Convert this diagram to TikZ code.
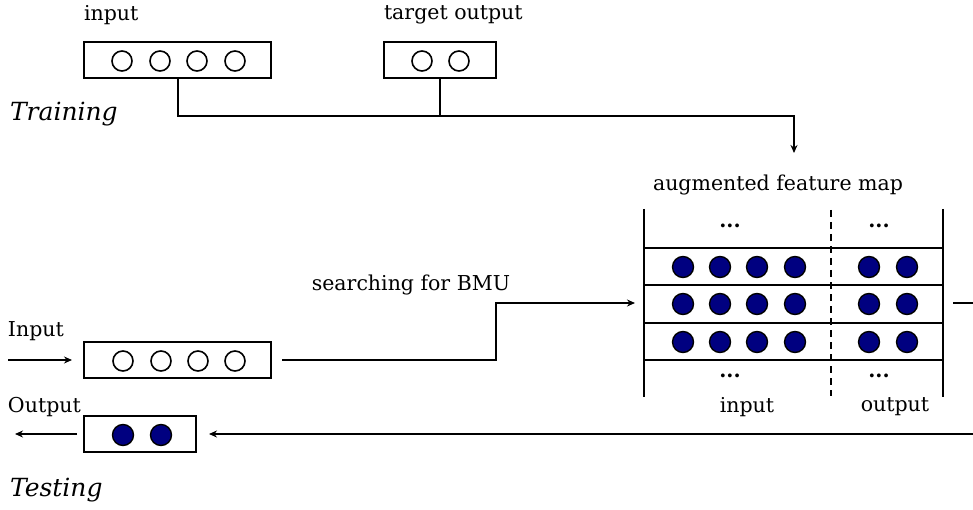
\documentclass[tikz,border=0pt]{standalone}
\usepackage{fontspec}
\setmainfont{DejaVu Serif}
\usetikzlibrary{arrows.meta}
\definecolor{dotblue}{RGB}{0,0,128}
\begin{document}
\begin{tikzpicture}[x=1pt,y=-1pt,
  every path/.style={line width=2pt},
  vecbox/.style={draw,line width=2pt,rectangle,inner sep=0pt,minimum height=36pt},
  hollow/.style={draw,circle,line width=1.6pt,inner sep=0pt,minimum width=18pt,minimum height=20pt},
  solid dot/.style={draw,circle,fill=dotblue,line width=1.4pt,inner sep=0pt,minimum size=21pt},
  lbl/.style={inner sep=0pt,font=\fontsize{20.5}{24}\selectfont},
  ital/.style={inner sep=0pt,font=\fontsize{25}{30}\selectfont\itshape},
  arr/.style={-{Stealth[length=8pt,width=7pt]}},
  mapline/.style={line width=2pt}
]
\useasboundingbox (0,0) rectangle (973,510);

% ---------- Training ----------
\node[lbl,anchor=west] (lin) at (83,15) {input};
\node[lbl,anchor=west] (lto) at (383,15) {target output};
\node[vecbox,minimum width=187pt] (inA) at (177.5,60.5) {};
\node[hollow] (a1) at (122,61) {};
\node[hollow] (a2) at (160,61) {};
\node[hollow] (a3) at (197,61) {};
\node[hollow] (a4) at (235,61) {};
\node[vecbox,minimum width=112pt] (tgtA) at (439.5,60.5) {};
\node[hollow] (t1) at (422,61) {};
\node[hollow] (t2) at (459,61) {};
\node[ital,anchor=west] (training) at (9,114) {Training};

\coordinate (corner) at (794,116);
\coordinate (tgtEnd) at (794,153);
\draw[arr] (inA.south) |- (corner) -- (tgtEnd);
\draw (tgtA.south) -- (tgtA.south |- corner);

% ---------- augmented feature map ----------
\node[lbl] (afm) at (778,185) {augmented feature map};
\draw[mapline] (644,209) -- (644,397);
\draw[mapline] (943,209) -- (943,397);
\draw[mapline,dash pattern=on 7pt off 5pt] (831,210) -- (831,396);
\foreach \yy in {248,285,323,360} \draw[mapline] (644,\yy) -- (943,\yy);
\node[lbl,anchor=base] (d1) at (730,228) {\textbf{...}};
\node[lbl,anchor=base] (d2) at (879,228) {\textbf{...}};
\node[lbl,anchor=base] (d3) at (730,377) {\textbf{...}};
\node[lbl,anchor=base] (d4) at (879,377) {\textbf{...}};
\foreach \r/\yy in {1/267,2/304,3/342}{
  \foreach \c/\xx in {1/683,2/720,3/757,4/795,5/869,6/907}{
    \node[solid dot] (m\r\c) at (\xx,\yy) {};
  }
}
\node[lbl] (lmi) at (747,407) {input};
\node[lbl] (lmo) at (895,407) {output};
\coordinate (mapW) at (644,303);
\coordinate (mapE) at (943,303);
\coordinate (rEdge) at (973,303);
\draw[shorten <=10pt] (mapE) -- (rEdge);

% ---------- Testing ----------
\node[lbl,anchor=west] (lInput) at (7,331) {Input};
\node[vecbox,minimum width=187pt] (inB) at (177.5,360) {};
\node[hollow] (b1) at (123,361) {};
\node[hollow] (b2) at (161,361) {};
\node[hollow] (b3) at (198,361) {};
\node[hollow] (b4) at (235,361) {};
\coordinate (inStart) at (8,360);
\draw[arr,shorten >=11pt] (inStart) -- (inB.west);

\node[lbl] (sbmu) at (411,285) {searching for BMU};
\coordinate (bend) at (496,303);
\draw[arr,shorten <=10pt,shorten >=9pt] (inB.east) -| (bend) -- (mapW);

\node[lbl,anchor=west] (lOutput) at (7,407) {Output};
\node[vecbox,minimum width=112pt] (outB) at (140,434) {};
\node[solid dot] (o1) at (123,435) {};
\node[solid dot] (o2) at (161,435) {};
\coordinate (outEnd) at (15,434);
\draw[arr,shorten <=6pt] (outB.west) -- (outEnd);
\coordinate (bEdge) at (973,434);
\draw[arr,shorten >=12pt] (bEdge) -- (outB.east);

\node[ital,anchor=west] (testing) at (9,490) {Testing};
\end{tikzpicture}
\end{document}
